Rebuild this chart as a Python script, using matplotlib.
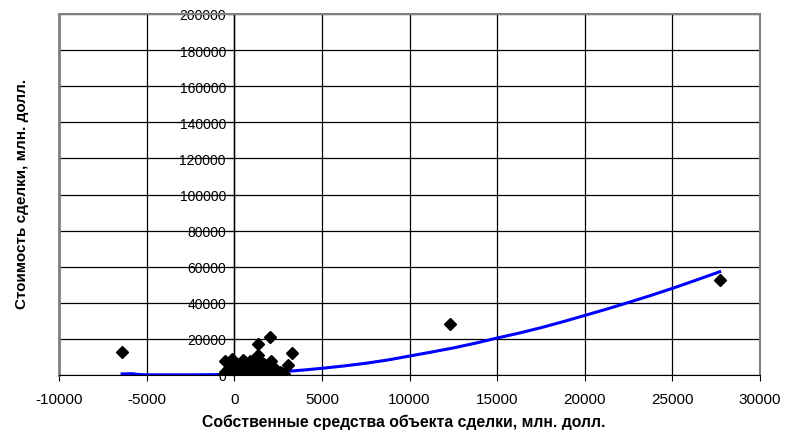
import matplotlib
matplotlib.use("Agg")
import matplotlib.pyplot as plt

plt.rcParams['font.family'] = ['Liberation Sans', 'DejaVu Sans']

# Scatter data: equity of deal object (x) vs deal value (y), mln USD
equity = [-6400, 12300, 27700,
          2030, 1360, 3300, -500, -100, 1360, 1550, 3070, 2100,
          600, 800, 1000, 200, 0, -200, -400, 100, 400, 700, 900, 1200,
          1600, 1800, 2200, 1100, 500, 300, -100, 50, 600, 1000, 1700,
          2600, 1400, 800, 350, 150, -300, 2100, 200, 1500, 2300, 2500,
          1900, 1300, 450, 650, -550, 2700, 1250, 950, 750,
          -600, -350, 250, 550, 850, 1150, 1450, 1750, 2050, 2400, 2850,
          400, 700, 1000, 1300, 1600, 1900, 900, 1150, 500, 2000]
value = [13000, 28000, 52500,
         20900, 17200, 12000, 7600, 8900, 11000, 7000, 5500, 7900,
         5500, 6000, 5000, 4000, 3000, 2000, 1000, 500, 1500, 3000, 2000, 3500,
         4000, 1000, 500, 500, 200, 1000, 300, 100, 7000, 7000, 6000,
         1500, 2500, 4500, 2500, 5500, 6000, 2000, 0, 0, 3500, 500,
         3000, 6500, 6500, 4500, 1500, 1000, 1500, 5500, 1200,
         300, 3500, 1800, 3800, 5200, 4200, 5500, 2600, 4800, 2800, 800,
         200, 400, 1200, 300, 1800, 500, 8000, 8500, 8200, 1500]

# Trend line
trend_x = [-6400, -5800, -5500, -5000, -2500, 0, 1000, 2000, 3000, 4000, 5000,
           6250, 7500, 8750, 10000, 11250, 12500, 13750, 15000, 16250, 17500,
           18750, 20000, 21250, 22500, 23750, 25000, 26250, 27700]
trend_y = [600, 700, 300, 100, 100, 300, 800, 1400, 2000, 2800, 3700,
           5000, 6500, 8300, 10500, 12700, 15000, 17600, 20500, 23200, 26200,
           29500, 33000, 36500, 40200, 44000, 48000, 52200, 57200]

x_ticks = [-10000, -5000, 0, 5000, 10000, 15000, 20000, 25000, 30000]
y_ticks = [0, 20000, 40000, 60000, 80000, 100000, 120000, 140000, 160000, 180000, 200000]

fig = plt.figure(figsize=(7.85, 4.35), dpi=100)
ax = fig.add_axes([59/785, (435-376)/435, 701/785, 361/435])

ax.set_xlim(-10000, 30000)
ax.set_ylim(0, 200000)
ax.set_xticks(x_ticks)
ax.set_yticks(y_ticks)
ax.set_xticklabels([str(t) for t in x_ticks], fontsize=11)
ax.set_yticklabels([str(t) for t in y_ticks], fontsize=11)

ax.grid(True, color='black', linewidth=0.9)
ax.set_axisbelow(True)

ax.plot(trend_x, trend_y, color='#0000FF', linewidth=2.2, zorder=3)
ax.plot(equity, value, linestyle='none', marker='D', markersize=6,
        color='black', zorder=4)

ax.spines['left'].set_position(('data', 0))
ax.spines['left'].set_color('black')
ax.spines['left'].set_linewidth(1)
ax.spines['bottom'].set_color('black')
ax.spines['top'].set_color('#808080')
ax.spines['right'].set_color('#808080')
ax.spines['top'].set_linewidth(1.5)
ax.spines['right'].set_linewidth(1.5)
ax.axvline(-10000, color='#808080', linewidth=2, zorder=2.5, clip_on=False)

ax.tick_params(axis='y', direction='out', length=4, pad=2, color='black')
ax.tick_params(axis='x', direction='out', length=4, pad=8, color='black')

fig.text(22/785, 1 - 194/435, 'Стоимость сделки, млн. долл.', rotation=90,
         ha='center', va='center', fontsize=11, fontweight='bold')
fig.text(404/785, 1 - 422/435, 'Собственные средства объекта сделки, млн. долл.',
         ha='center', va='center', fontsize=11.3, fontweight='bold')

fig.savefig('out.png', dpi=100)
